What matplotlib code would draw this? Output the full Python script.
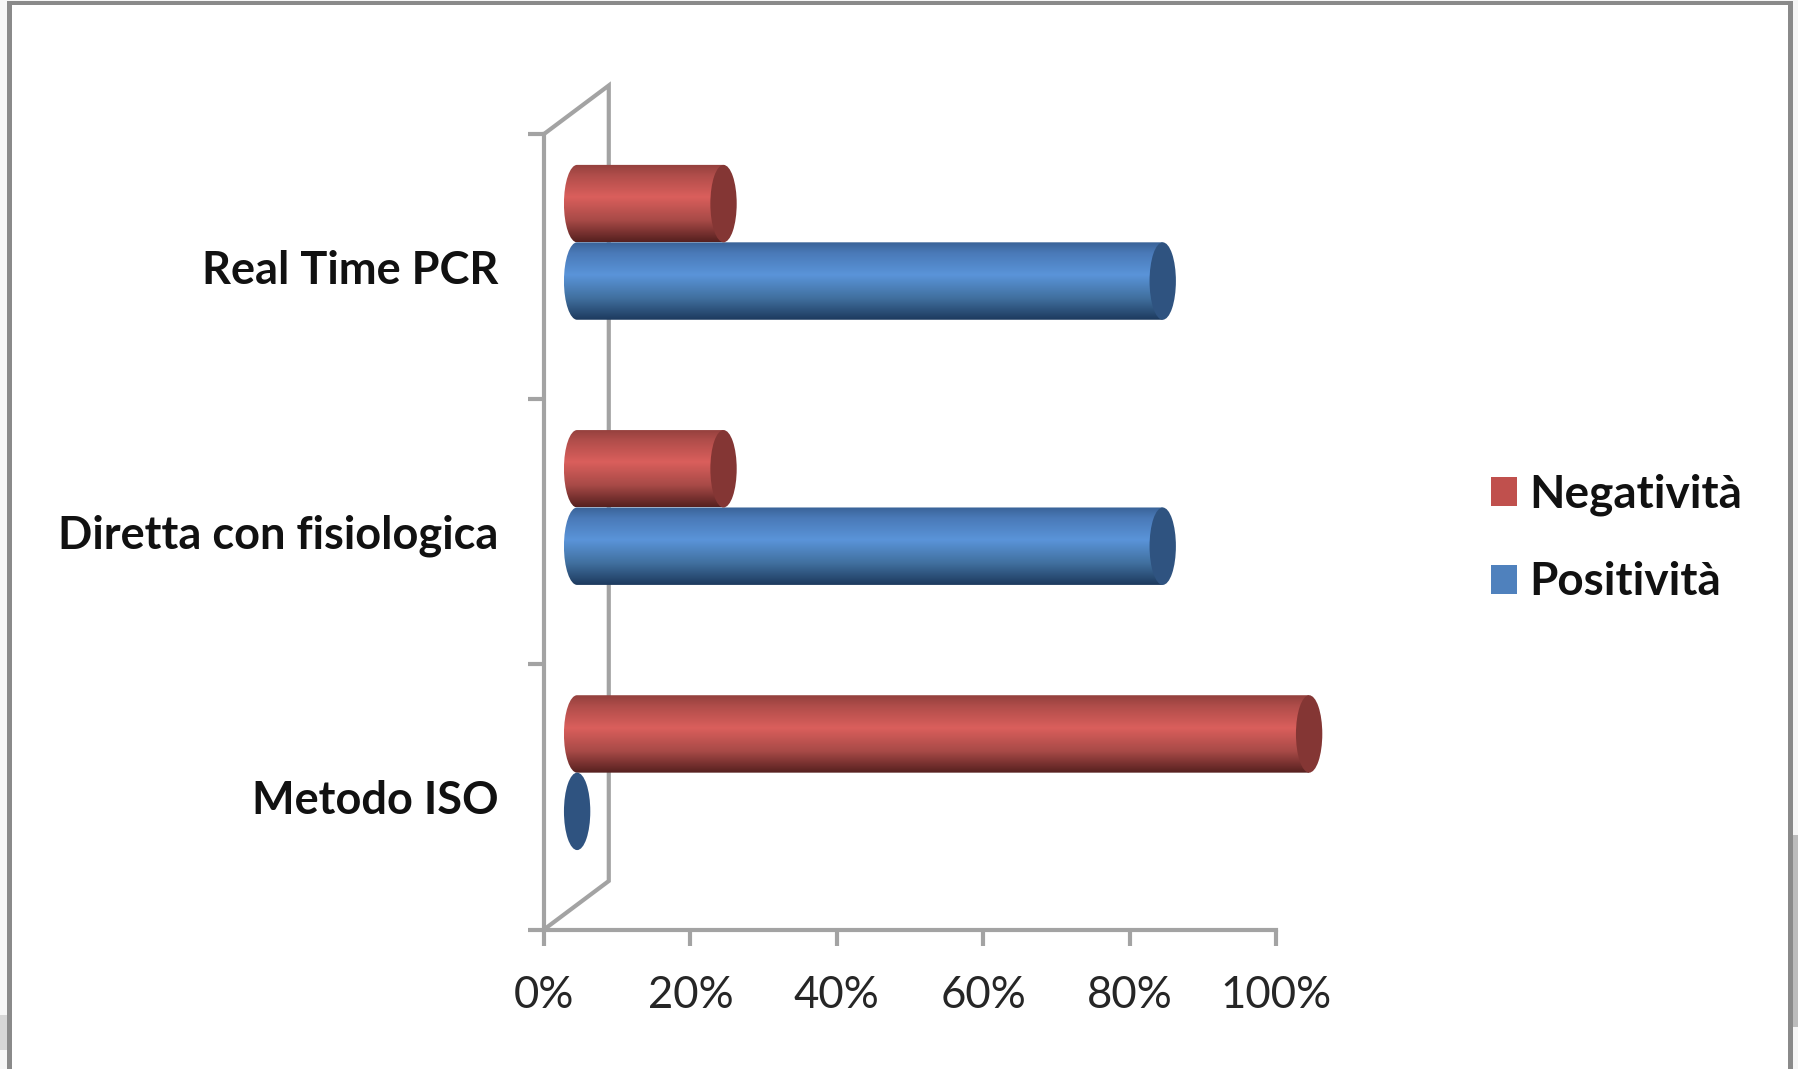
import numpy as np
import matplotlib
matplotlib.use("Agg")
import matplotlib.pyplot as plt
from matplotlib.patches import Ellipse, Rectangle, PathPatch, Patch
from matplotlib.path import Path

# Chart values
categories = ["Metodo ISO", "Diretta con fisiologica", "Real Time PCR"]
positivita = [0, 80, 80]
negativita = [100, 20, 20]
x_ticks = [0, 20, 40, 60, 80, 100]
x_tick_labels = ["0%", "20%", "40%", "60%", "80%", "100%"]
series_names = ["Negatività", "Positività"]

W, H = 1799, 1069
GREY = "#a3a3a3"

# Depth of the pseudo-3D box, in axis units
DEPTH_X = 8.85
DEPTH_Y = 0.183
BAR_H = 0.292
CAP_W = 3.6
BASE_X = DEPTH_X / 2 + 0.1

# Vertical shading of each cylinder: position, colour
RED_SHADE = [(0.0, "#93403d"), (0.14, "#b04d4a"), (0.42, "#da5f5c"), (0.72, "#a84a47"), (1.0, "#56201f")]
BLUE_SHADE = [(0.0, "#3a6398"), (0.14, "#4a7ab8"), (0.42, "#5a94d9"), (0.72, "#41709f"), (1.0, "#1d3a5e")]
RED_CAP = "#843634"
BLUE_CAP = "#2f5380"
RED_KEY = "#c0504d"
BLUE_KEY = "#4f81bd"


def px_rect(x0, y0, x1, y1, color, z):
    """Rectangle on the figure given in pixels from the top-left corner."""
    fig.add_artist(Rectangle((x0 / W, 1 - y1 / H), (x1 - x0) / W, (y1 - y0) / H,
                             transform=fig.transFigure, facecolor=color,
                             edgecolor="none", zorder=z))


def shade_image(stops, n=128):
    pos = [s[0] for s in stops]
    rgb = np.array([matplotlib.colors.to_rgb(s[1]) for s in stops])
    t = np.linspace(0, 1, n)
    return np.stack([np.interp(t, pos, rgb[:, k]) for k in range(3)], axis=1)[:, None, :]


def cylinder(ax, value, yc, stops, cap):
    """Horizontal cylinder starting on the middle of the box depth."""
    x0 = BASE_X
    x1 = x0 + value
    if value > 0:
        a, b = CAP_W / 2, BAR_H / 2
        k = 0.5523
        verts = [(x1, yc - b), (x0, yc - b),
                 (x0 - a * k, yc - b), (x0 - a, yc - b * k), (x0 - a, yc),
                 (x0 - a, yc + b * k), (x0 - a * k, yc + b), (x0, yc + b),
                 (x1, yc + b), (x1, yc - b)]
        codes = [Path.MOVETO, Path.LINETO,
                 Path.CURVE4, Path.CURVE4, Path.CURVE4,
                 Path.CURVE4, Path.CURVE4, Path.CURVE4,
                 Path.LINETO, Path.CLOSEPOLY]
        clip = PathPatch(Path(verts, codes), transform=ax.transData,
                         facecolor="none", edgecolor="none", clip_on=False)
        ax.add_patch(clip)
        im = ax.imshow(shade_image(stops), extent=(x0 - a, x1, yc - b, yc + b),
                       origin="upper", aspect="auto", interpolation="bilinear",
                       zorder=3)
        im.set_clip_box(fig.bbox)
        im.set_clip_path(clip)
    ax.add_patch(Ellipse((x1, yc), CAP_W, BAR_H, facecolor=cap, edgecolor="none",
                         zorder=3.1, clip_on=False))


fig = plt.figure(figsize=(W / 100, H / 100), dpi=100, facecolor="#f6f6f6")

# Window frame and scraps of the page around it
px_rect(0, 1015, 7, 1050, "#d6d6d6", 0)
px_rect(1793, 835, W, 1027, "#bcbcbc", 0)
px_rect(7, 1, 1793, H, "#8a8a8a", 0.5)
px_rect(12, 5, 1788, H, "#ffffff", 1)

ax = fig.add_axes([544 / W, 1 - 929.5 / H, (1276 - 544) / W, (929.5 - 134) / H],
                  facecolor="none", zorder=2)

# Box outline: rear vertical edge and the two receding edges
ax.plot([0, DEPTH_X, DEPTH_X, 0], [3, 3 + DEPTH_Y, DEPTH_Y, 0], color=GREY, lw=3,
        clip_on=False, zorder=1, solid_joinstyle="miter")

for i, (pos, neg) in enumerate(zip(positivita, negativita)):
    yc = i + 0.5 + DEPTH_Y / 2
    cylinder(ax, pos, yc - BAR_H / 2, BLUE_SHADE, BLUE_CAP)
for i, (pos, neg) in enumerate(zip(positivita, negativita)):
    yc = i + 0.5 + DEPTH_Y / 2
    cylinder(ax, neg, yc + BAR_H / 2, RED_SHADE, RED_CAP)

ax.set_xlim(0, 100)
ax.set_ylim(0, 3)

for s in ("top", "right"):
    ax.spines[s].set_visible(False)
for s in ("left", "bottom"):
    ax.spines[s].set_color(GREY)
    ax.spines[s].set_linewidth(3)

ax.set_xticks(x_ticks)
ax.set_xticklabels(x_tick_labels, family="Lato", fontsize=31.5, color="#262626")
ax.tick_params(axis="x", length=11.5, width=3, color=GREY, pad=21.5)

ax.set_yticks([0, 1, 2, 3])
ax.set_yticklabels([])
ax.tick_params(axis="y", which="major", length=11.5, width=3, color=GREY)
ax.set_yticks([0.5, 1.5, 2.5], minor=True)
ax.set_yticklabels(categories, minor=True, family="Lato", fontweight="bold",
                   fontsize=32.5, color="#111111")
ax.tick_params(axis="y", which="minor", length=0, pad=33)

handles = [Patch(facecolor=RED_KEY, edgecolor="none"), Patch(facecolor=BLUE_KEY, edgecolor="none")]
fig.legend(handles, series_names, loc="upper left", bbox_to_anchor=(1491 / W, 1 - 474 / H),
           frameon=False, borderpad=0, borderaxespad=0, handlelength=0.56, handleheight=0.6,
           handletextpad=0.28, labelspacing=0.98, labelcolor="#111111",
           prop={"family": "Lato", "weight": "bold", "size": 33})

fig.savefig("out.png", dpi=100, facecolor=fig.get_facecolor())
